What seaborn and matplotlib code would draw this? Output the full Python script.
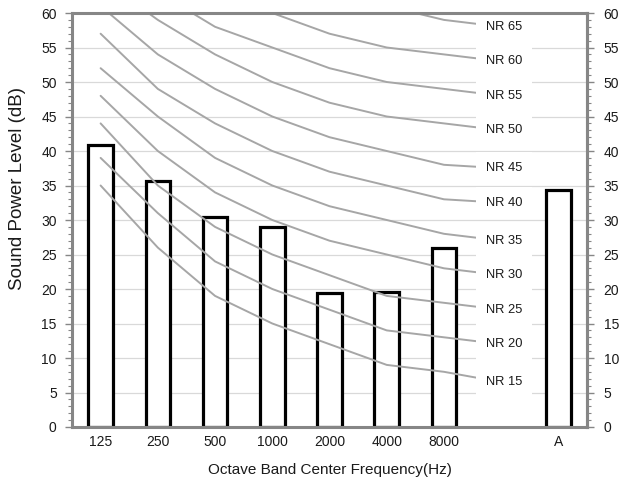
import matplotlib
matplotlib.use("Agg")
import matplotlib.pyplot as plt
import seaborn as sns
import pandas as pd
from matplotlib.ticker import MultipleLocator

# ---------------- data ----------------
categories = ["125", "250", "500", "1000", "2000", "4000", "8000", "", "A"]
band_labels = ["125", "250", "500", "1000", "2000", "4000", "8000"]
bar_values = [40.8, 35.6, 30.4, 29.0, 19.4, 19.6, 25.9]
overall_label = "A"
overall_value = 34.3

nr_names = ["NR 15", "NR 20", "NR 25", "NR 30", "NR 35", "NR 40",
            "NR 45", "NR 50", "NR 55", "NR 60", "NR 65"]
nr15 = [35, 26, 19, 15, 12, 9, 8]
nr20 = [39, 31, 24, 20, 17, 14, 13]
nr25 = [44, 35, 29, 25, 22, 19, 18]
nr30 = [48, 40, 34, 30, 27, 25, 23]
nr35 = [52, 45, 39, 35, 32, 30, 28]
nr40 = [57, 49, 44, 40, 37, 35, 33]
nr45 = [61, 54, 49, 45, 42, 40, 38]
nr50 = [65, 59, 54, 50, 47, 45, 44]
nr55 = [70, 63, 58, 55, 52, 50, 49]
nr60 = [74, 68, 63, 60, 57, 55, 54]
nr65 = [78, 72, 68, 65, 62, 61, 59]
nr_curves = [nr15, nr20, nr25, nr30, nr35, nr40, nr45, nr50, nr55, nr60, nr65]
# value where each curve ends at its label (label column)
nr_label_levels = [6.5, 12, 17, 22, 27, 32.5, 37.5, 43, 48, 53, 58]

y_ticks = list(range(0, 61, 5))

# ---------------- style ----------------
sns.set_theme(style="white")
plt.rcParams["font.family"] = ["Liberation Sans", "DejaVu Sans"]

GRAY_SPINE = "#868686"
GRID = "#d9d9d9"
NR_COL = "#a6a6a6"
TXT = "#1a1a1a"

fig = plt.figure(figsize=(6.2, 4.83), dpi=100)
fig.patch.set_facecolor("white")
ax = fig.add_axes([72 / 620, 1 - 427 / 483, (587 - 72) / 620, (427 - 13) / 483])

# bars
bar_df = pd.DataFrame({
    "band": band_labels + [overall_label],
    "level": bar_values + [overall_value],
})
sns.barplot(data=bar_df, x="band", y="level", order=categories, color="white",
            saturation=1, edgecolor="black", linewidth=2.3, width=0.43,
            ax=ax, zorder=2)

# NR curves: band positions 0..6 plus label column 7
rows = []
label_pos = categories.index("")
for name, vals, lab in zip(nr_names, nr_curves, nr_label_levels):
    for i, v in enumerate(vals):
        rows.append({"curve": name, "pos": i, "level": v})
    rows.append({"curve": name, "pos": label_pos, "level": lab})
nr_df = pd.DataFrame(rows)
sns.lineplot(data=nr_df, x="pos", y="level", units="curve", estimator=None,
             color=NR_COL, linewidth=1.4, sort=False, ax=ax, zorder=3,
             legend=False)

for name, lab in zip(nr_names, nr_label_levels):
    ax.text(label_pos + 0.05, lab, name, ha="center", va="center", fontsize=9.3,
            color=TXT, zorder=5,
            bbox=dict(boxstyle="square,pad=0.78", facecolor="white",
                      edgecolor="none"))

# axes styling
ax.set_xlim(-0.5, len(categories) - 0.5)
ax.set_ylim(0, 60)
ax.set_yticks(y_ticks)
ax.yaxis.set_minor_locator(MultipleLocator(1))
ax.grid(axis="y", color=GRID, linewidth=0.9, zorder=0)
ax.grid(axis="x", visible=False)
ax.set_axisbelow(True)
ax.set_xticks(range(len(categories)))
ax.set_xticklabels(categories)

for side in ["left", "bottom", "top", "right"]:
    ax.spines[side].set_visible(True)
    ax.spines[side].set_color(GRAY_SPINE)
    ax.spines[side].set_linewidth(2.2)
    ax.spines[side].set_zorder(6)

ax.tick_params(axis="y", which="major", direction="out", length=5, width=1,
               color=GRAY_SPINE, labelsize=10, labelcolor=TXT, pad=6, left=True)
ax.tick_params(axis="y", which="minor", direction="out", length=3, width=0.8,
               color=GRAY_SPINE, left=True)
ax.tick_params(axis="x", length=0, labelsize=10, labelcolor=TXT, pad=6)

ax.set_xlabel("Octave Band Center Frequency(Hz)", fontsize=11, color=TXT,
              labelpad=10)
ax.set_ylabel("Sound Power Level (dB)", fontsize=13.5, color=TXT)
ax.yaxis.label.set_verticalalignment("center")
ax.yaxis.label.set_horizontalalignment("center")
ax.yaxis.set_label_coords((18 - 72) / 515, (427 - 188) / 414)

# secondary axis
ax2 = ax.twinx()
ax2.set_ylim(0, 60)
ax2.set_yticks(y_ticks)
ax2.yaxis.set_minor_locator(MultipleLocator(1))
ax2.grid(False)
for side in ["left", "bottom", "top"]:
    ax2.spines[side].set_visible(False)
ax2.spines["right"].set_visible(True)
ax2.spines["right"].set_color(GRAY_SPINE)
ax2.spines["right"].set_linewidth(2.2)
ax2.tick_params(axis="y", which="major", direction="out", length=5, width=1,
                color=GRAY_SPINE, labelsize=10, labelcolor=TXT, pad=7, right=True)
ax2.tick_params(axis="y", which="minor", direction="out", length=3, width=0.8,
                color=GRAY_SPINE, right=True)

fig.savefig("out.png", dpi=100, facecolor="white")
